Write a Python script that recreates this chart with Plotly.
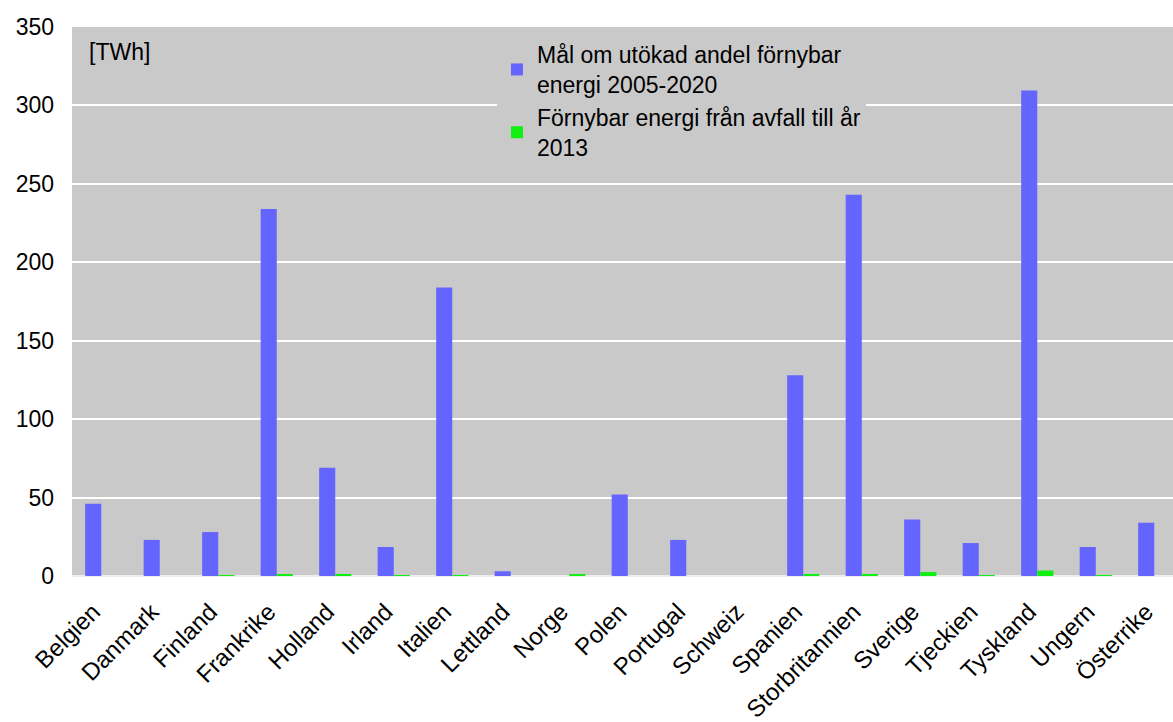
import plotly.graph_objects as go

countries = ["Belgien", "Danmark", "Finland", "Frankrike", "Holland", "Irland", "Italien",
             "Lettland", "Norge", "Polen", "Portugal", "Schweiz", "Spanien", "Storbritannien",
             "Sverige", "Tjeckien", "Tyskland", "Ungern", "Österrike"]
target_2005_2020 = [46, 23, 28, 234, 69, 18.5, 184, 3, 0, 52, 23, 0, 128, 243, 36, 21, 309.5, 18.5, 34]
waste_2013 = [0, 0, 0.3, 1.2, 1.3, 0.1, 0.3, 0, 1.2, 0, 0, 0, 0.7, 1.0, 2.5, 0.3, 3.5, 0.2, 0]

name_target = "Mål om utökad andel förnybar<br>energi 2005-2020"
name_waste = "Förnybar energi från avfall till år<br>2013"

fig = go.Figure()
fig.add_trace(go.Bar(x=countries, y=target_2005_2020, name=name_target,
                     marker=dict(color="#6464FF", line=dict(width=0))))
fig.add_trace(go.Bar(x=countries, y=waste_2013, name=name_waste,
                     marker=dict(color="#11EE11", line=dict(width=0))))

font_family = "Liberation Sans, Arial, sans-serif"
fig.update_layout(
    width=1173, height=722,
    margin=dict(l=72, r=0, t=27, b=146, autoexpand=False),
    paper_bgcolor="white",
    plot_bgcolor="#C9C9C9",
    barmode="group",
    bargap=0.45,
    bargroupgap=0,
    font=dict(family=font_family, size=23, color="black"),
    legend=dict(
        x=0.386, y=0.989, xanchor="left", yanchor="top",
        bgcolor="#C9C9C9",
        font=dict(family=font_family, size=23, color="black"),
        itemsizing="constant",
        tracegroupgap=0,
    ),
    showlegend=True,
    xaxis=dict(
        type="category",
        range=[-0.5, 18.32],
        tickangle=-45,
        tickfont=dict(size=24),
        showgrid=False,
        ticks="",
        showline=False,
        automargin=False,
        ticklabelstandoff=16,
        ticklabelshift=-8,
    ),
    yaxis=dict(
        range=[0, 350],
        tickvals=[0, 50, 100, 150, 200, 250, 300, 350],
        showgrid=True,
        gridcolor="white",
        gridwidth=2,
        zeroline=True,
        zerolinecolor="#EEEEEE",
        zerolinewidth=2,
        tickfont=dict(size=23),
        ticklabelstandoff=17,
        ticks="",
        automargin=False,
    ),
)
fig.add_annotation(text="[TWh]", xref="paper", yref="paper", x=0.014, y=0.982,
                   xanchor="left", yanchor="top", showarrow=False,
                   font=dict(family=font_family, size=23, color="black"))

fig.write_html("out.html", config={"displayModeBar": False},
               post_script="document.body.style.margin='0px';")
